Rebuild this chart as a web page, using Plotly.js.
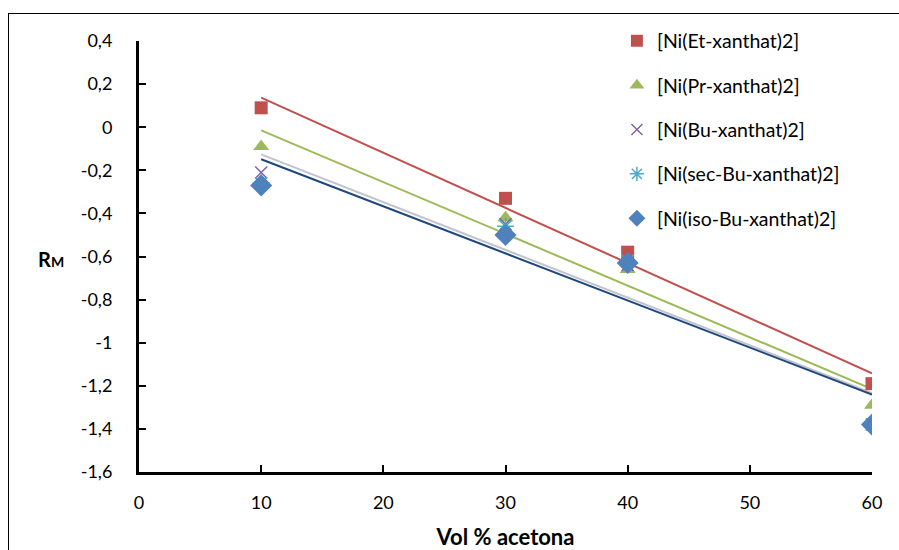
<!DOCTYPE html>
<html>
<head>
<meta charset="utf-8">
<script src="https://cdn.plot.ly/plotly-3.0.1.min.js"></script>
<style>
html,body{margin:0;padding:0;background:#fff;}
#wrap{position:relative;width:899px;height:550px;}
#chart{position:absolute;left:0;top:0;width:899px;height:550px;}
#frame{position:absolute;left:8px;top:13px;width:900px;height:560px;border-left:1px solid #000;border-top:1px solid #000;pointer-events:none;}
</style>
</head>
<body>
<div id="wrap"><div id="chart"></div><div id="frame"></div></div>
<script>
// Data
const volAcetona = [10, 30, 40, 60];
const seriesNames = ['[Ni(Et-xanthat)2]', '[Ni(Pr-xanthat)2]', '[Ni(Bu-xanthat)2]', '[Ni(sec-Bu-xanthat)2]', '[Ni(iso-Bu-xanthat)2]'];
const rmEt    = [0.09, -0.33, -0.58, -1.19];
const rmPr    = [-0.09, -0.42, -0.66, -1.29];
const rmBu    = [-0.21, -0.45, -0.64, -1.38];
const rmSecBu = [-0.26, -0.46, -0.62, -1.38];
const rmIsoBu = [-0.27, -0.50, -0.63, -1.38];
const yTickVals = [0.4, 0.2, 0, -0.2, -0.4, -0.6, -0.8, -1, -1.2, -1.4, -1.6];
const yTickText = ['0,4', '0,2', '0', '-0,2', '-0,4', '-0,6', '-0,8', '-1', '-1,2', '-1,4', '-1,6'];
const xTickVals = [0, 10, 20, 30, 40, 50, 60];

const FONT = 'Lato, "Open Sans", sans-serif';

function linFit(xs, ys) {
  const n = xs.length;
  const mx = xs.reduce((a, b) => a + b, 0) / n;
  const my = ys.reduce((a, b) => a + b, 0) / n;
  let sxy = 0, sxx = 0;
  for (let i = 0; i < n; i++) { sxy += (xs[i] - mx) * (ys[i] - my); sxx += (xs[i] - mx) ** 2; }
  const b = sxy / sxx, a = my - b * mx;
  const x0 = Math.min(...xs), x1 = Math.max(...xs);
  return { x: [x0, x1], y: [a + b * x0, a + b * x1] };
}

const seriesData = [rmEt, rmPr, rmBu, rmSecBu, rmIsoBu];
const markerStyles = [
  { symbol: 'square', color: '#C0504D', size: 13, lsize: 12 },
  { symbol: 'triangle-up', color: '#9BBB59', size: 14, lsize: 13 },
  { symbol: 'x-thin-open', color: '#8064A2', size: 12, lsize: 11, line: { color: '#8064A2', width: 1.5 } },
  { symbol: 'asterisk-open', color: '#4BACC6', size: 14, lsize: 12, line: { color: '#4BACC6', width: 1.5 } },
  { symbol: 'diamond', color: '#4F81BD', size: 17, lsize: 13 }
];
// trendlines (Et, Pr, sec-Bu, iso-Bu)
const trendSpec = [
  { idx: 0, color: '#C0504D' },
  { idx: 1, color: '#9BBB59' },
  { idx: 3, color: '#C3C3CF' },
  { idx: 4, color: '#1F497D' }
];

const traces = [];
trendSpec.forEach(t => {
  const f = linFit(volAcetona, seriesData[t.idx]);
  traces.push({ x: f.x, y: f.y, mode: 'lines', line: { color: t.color, width: 2 }, showlegend: false, hoverinfo: 'skip' });
});
seriesData.forEach((ys, i) => {
  const m = markerStyles[i];
  const marker = { symbol: m.symbol, color: m.color, size: m.size };
  if (m.line) marker.line = m.line;
  traces.push({ x: volAcetona, y: ys, mode: 'markers', name: seriesNames[i], marker: marker, showlegend: false });
});
// legend entries (smaller markers, as in the reference legend)
seriesData.forEach((ys, i) => {
  const m = markerStyles[i];
  const marker = { symbol: m.symbol, color: m.color, size: m.lsize };
  if (m.line) marker.line = m.line;
  traces.push({ x: [null], y: [null], mode: 'markers', name: seriesNames[i], marker: marker, legendgroup: 'g' + i, showlegend: true });
});

const layout = {
  width: 899, height: 550,
  margin: { l: 139, r: 27, t: 41, b: 78 },
  paper_bgcolor: '#fff', plot_bgcolor: '#fff',
  font: { family: FONT, size: 18, color: '#000' },
  showlegend: true,
  legend: {
    x: 0.652, y: 1.045, xanchor: 'left', yanchor: 'top',
    bgcolor: 'rgba(0,0,0,0)', font: { family: FONT, size: 19.5, color: '#000' },
    tracegroupgap: 16, traceorder: 'grouped'
  },
  xaxis: {
    range: [0, 60], tickvals: xTickVals, ticktext: xTickVals.map(String),
    showgrid: false, zeroline: false, showline: true, linecolor: '#000', linewidth: 3,
    ticks: 'inside', ticklen: 7, tickwidth: 2, tickcolor: '#000', ticklabelstandoff: 12,
    title: { text: '<b>Vol % acetona</b>', font: { family: FONT, size: 22, color: '#000' }, standoff: 20 }
  },
  yaxis: {
    range: [-1.6, 0.4], tickvals: yTickVals, ticktext: yTickText,
    showgrid: false, zeroline: false, showline: true, linecolor: '#000', linewidth: 3,
    ticks: 'inside', ticklen: 7, tickwidth: 2, tickcolor: '#000', ticklabelstandoff: 20
  },
  annotations: [{
    xref: 'paper', yref: 'paper', x: -0.10, y: 0.495, xanchor: 'right', yanchor: 'middle',
    text: '<b>R<span style="font-size:14px">M</span></b>', showarrow: false,
    font: { family: FONT, size: 20, color: '#000' }
  }]
};

Plotly.newPlot('chart', traces, layout, { displayModeBar: false, staticPlot: true });
</script>
</body>
</html>
